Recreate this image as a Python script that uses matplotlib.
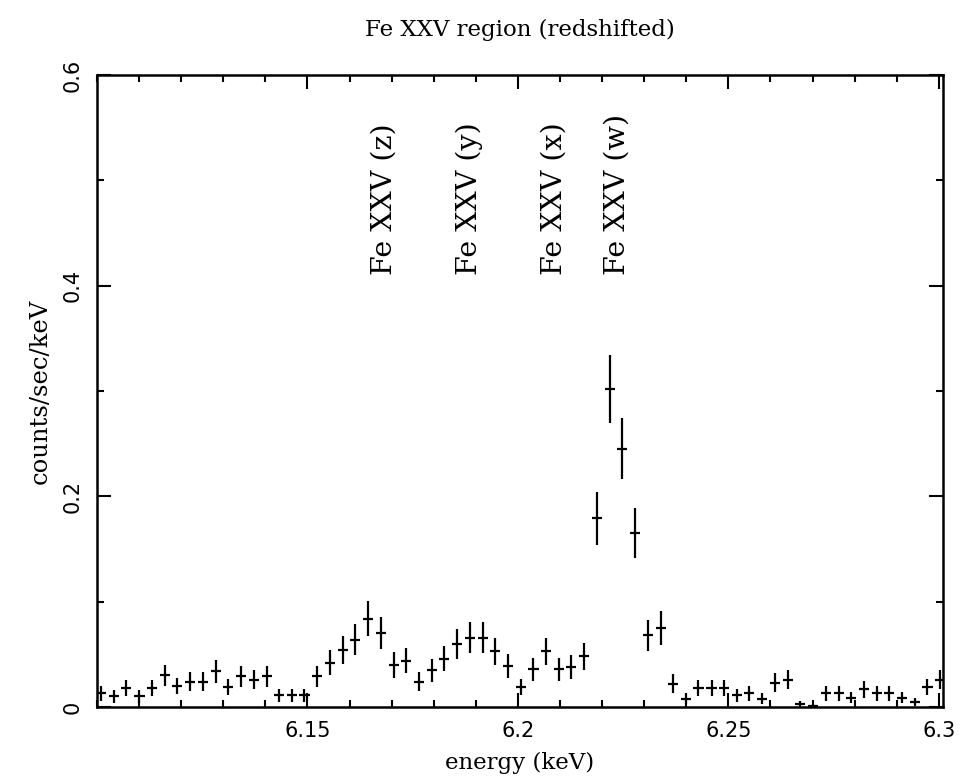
import numpy as np
import matplotlib
matplotlib.use('Agg')
import matplotlib.pyplot as plt
from matplotlib.ticker import MultipleLocator

# 数据
energy = [6.1010, 6.1040, 6.1070, 6.1101, 6.1131, 6.1161, 6.1191, 6.1221, 6.1252, 6.1282,
          6.1312, 6.1342, 6.1372, 6.1403, 6.1433, 6.1463, 6.1493, 6.1523, 6.1554, 6.1584,
          6.1614, 6.1644, 6.1674, 6.1705, 6.1735, 6.1765, 6.1795, 6.1825, 6.1856, 6.1886,
          6.1916, 6.1946, 6.1976, 6.2007, 6.2037, 6.2067, 6.2097, 6.2127, 6.2158, 6.2188,
          6.2218, 6.2248, 6.2278, 6.2309, 6.2339, 6.2369, 6.2399, 6.2429, 6.2460, 6.2490,
          6.2520, 6.2550, 6.2580, 6.2611, 6.2641, 6.2671, 6.2701, 6.2731, 6.2762, 6.2792,
          6.2822, 6.2852, 6.2882, 6.2913, 6.2943, 6.2973, 6.3003]
rate = [0.013, 0.010, 0.018, 0.010, 0.018, 0.030, 0.020, 0.024, 0.024, 0.034,
        0.019, 0.029, 0.026, 0.029, 0.011, 0.011, 0.011, 0.029, 0.042, 0.054,
        0.064, 0.084, 0.070, 0.040, 0.044, 0.024, 0.035, 0.046, 0.060, 0.066,
        0.066, 0.053, 0.039, 0.019, 0.036, 0.053, 0.036, 0.038, 0.048, 0.179,
        0.302, 0.245, 0.165, 0.068, 0.075, 0.022, 0.008, 0.018, 0.018, 0.018,
        0.011, 0.013, 0.008, 0.023, 0.026, 0.003, 0.001, 0.013, 0.013, 0.009,
        0.017, 0.013, 0.013, 0.009, 0.005, 0.019, 0.026]
rate_err = [0.007, 0.006, 0.008, 0.006, 0.008, 0.010, 0.008, 0.009, 0.009, 0.011,
            0.008, 0.010, 0.009, 0.010, 0.006, 0.006, 0.006, 0.010, 0.012, 0.013,
            0.015, 0.017, 0.015, 0.012, 0.012, 0.009, 0.011, 0.012, 0.014, 0.015,
            0.015, 0.013, 0.011, 0.008, 0.011, 0.013, 0.011, 0.011, 0.013, 0.025,
            0.032, 0.029, 0.024, 0.015, 0.016, 0.009, 0.005, 0.008, 0.008, 0.008,
            0.006, 0.007, 0.005, 0.009, 0.009, 0.003, 0.002, 0.007, 0.007, 0.005,
            0.008, 0.007, 0.007, 0.005, 0.004, 0.008, 0.009]
bin_half = 0.0012

line_labels = ['Fe XXV (z)', 'Fe XXV (y)', 'Fe XXV (x)', 'Fe XXV (w)']
line_energy = [6.1683, 6.1885, 6.2086, 6.2236]
label_y = 0.41

serif = ['DejaVu Serif']

fig = plt.figure(figsize=(9.63, 7.79), dpi=100)
ax = fig.add_axes([0.1007, 0.0924, 0.8786, 0.8113])

ax.errorbar(energy, rate, yerr=rate_err, xerr=bin_half, fmt='none',
            ecolor='black', elinewidth=1.6, capsize=0)

for lab, e in zip(line_labels, line_energy):
    ax.text(e, label_y, lab, rotation=90, ha='center', va='bottom',
            fontsize=20.5, family=serif)

ax.set_xlim(6.1, 6.301)
ax.set_ylim(0, 0.6)
ax.set_xticks([6.15, 6.2, 6.25, 6.3])
ax.set_xticklabels(['6.15', '6.2', '6.25', '6.3'])
ax.xaxis.set_minor_locator(MultipleLocator(0.01))
ax.set_yticks([0, 0.2, 0.4, 0.6])
ax.set_yticklabels(['0', '0.2', '0.4', '0.6'], rotation=90, va='center')
ax.yaxis.set_minor_locator(MultipleLocator(0.1))

ax.tick_params(which='both', direction='in', top=True, right=True,
               labelsize=15, width=1.5, pad=10)
ax.tick_params(which='major', length=10)
ax.tick_params(which='minor', length=5)
for s in ax.spines.values():
    s.set_linewidth(1.8)

ax.set_xlabel('energy (keV)', fontsize=16.5, family=serif, labelpad=8)
ax.set_ylabel('counts/sec/keV', fontsize=17.5, family=serif, labelpad=8)
ax.set_title('Fe XXV region (redshifted)', fontsize=16.5, family=serif, pad=28)

fig.savefig('out.png', dpi=100)
